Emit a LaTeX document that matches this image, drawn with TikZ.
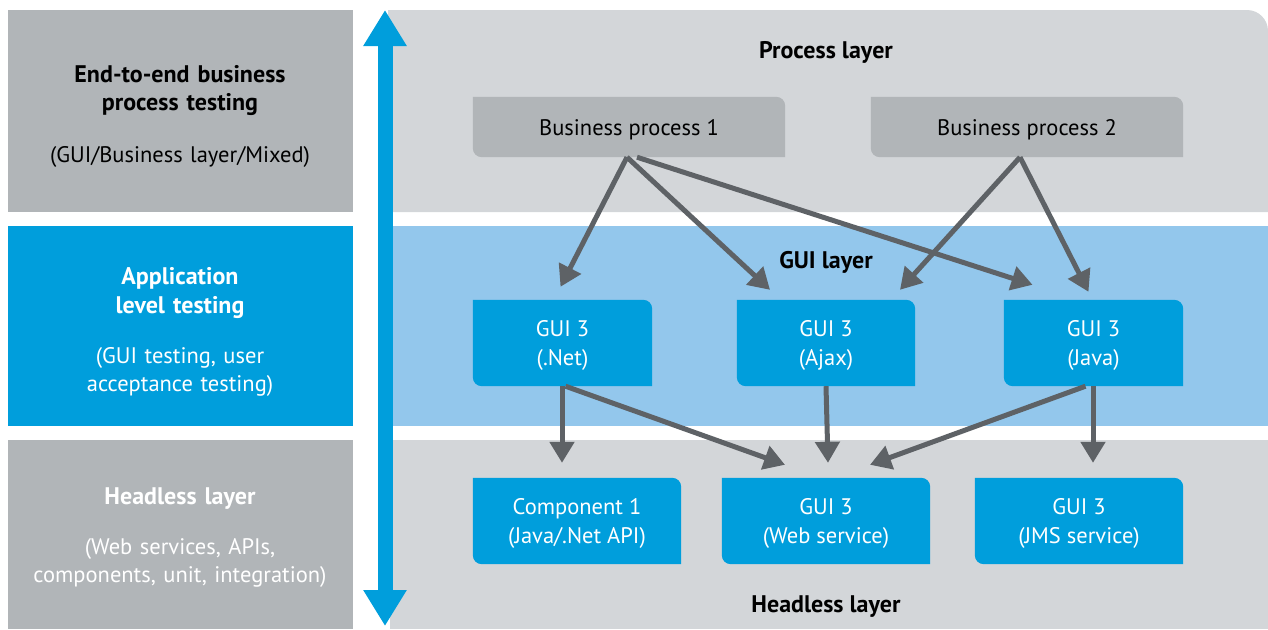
\documentclass[tikz,border=0pt]{standalone}
\usepackage{fontspec}
\setmainfont{PT Sans}
\usetikzlibrary{arrows.meta,backgrounds}
\definecolor{sidegray}{HTML}{B1B5B8}
\definecolor{bandgray}{HTML}{D3D6D9}
\definecolor{hpblue}{HTML}{009EDC}
\definecolor{bandblue}{HTML}{93C7EC}
\definecolor{linkgray}{HTML}{5E6266}
\tikzset{
  sidetext/.style={text width=330pt,align=center,inner sep=0pt,text depth=0pt,font=\fontsize{22.5}{28.5}\selectfont},
  sidetitle/.style={sidetext,font=\fontsize{24}{28.5}\selectfont\bfseries},
  bandtitle/.style={inner sep=0pt,text depth=0pt,font=\fontsize{24}{28}\selectfont\bfseries},
  procbox/.style={minimum width=312pt,minimum height=60pt,inner sep=0pt,text depth=0pt,font=\fontsize{22.5}{28}\selectfont},
  appbox/.style={minimum height=86pt,inner sep=0pt,text depth=0pt,align=center,text=white,font=\fontsize{22.5}{28.5}\selectfont},
  link/.style={draw=linkgray,line width=5pt,-{Triangle[length=21pt,width=24pt]}}
}
% fill with round top right and bottom left corners
\newcommand\cornerbox[2]{%
  \fill[#1] (#2.north west) -- ([xshift=-9pt]#2.north east)
    arc[start angle=90,end angle=0,radius=9pt] -- (#2.south east)
    -- ([xshift=9pt]#2.south west)
    arc[start angle=270,end angle=180,radius=9pt] -- cycle;}
\begin{document}
\begin{tikzpicture}[x=1pt,y=-1pt]
\useasboundingbox (0,0) rectangle (1268,629);

% left column
\node[sidetitle] (e2eT) at (180,73.5) {End-to-end business\\process testing};
\node[sidetext] (e2eS) at (180,154) {(GUI/Business layer/Mixed)};
\node[sidetitle,text=white] (appT) at (180,276) {Application\\level testing};
\node[sidetext,text=white] (appS) at (180,355) {(GUI testing, user\\acceptance testing)};
\node[sidetitle,text=white] (hdlT) at (180,496) {Headless layer};
\node[sidetext,text=white] (hdlS) at (180,546) {(Web services, APIs,\\components, unit, integration)};

% band titles
\node[bandtitle] (procL) at (826,50) {Process layer};
\node[bandtitle] (guiL) at (826,260) {GUI layer};
\node[bandtitle] (hdlL) at (826,604) {Headless layer};

% boxes
\node[procbox] (bp1) at (629,127) {Business process 1};
\node[procbox] (bp2) at (1027,127) {Business process 2};
\node[appbox,minimum width=179pt] (net) at (562.5,343) {GUI 3\\(.Net)};
\node[appbox,minimum width=178pt] (ajax) at (826,343) {GUI 3\\(Ajax)};
\node[appbox,minimum width=179pt] (java) at (1093.5,343) {GUI 3\\(Java)};
\node[appbox,minimum width=208pt] (comp) at (577,521) {Component 1\\(Java/.Net API)};
\node[appbox,minimum width=208pt] (web) at (826,521) {GUI 3\\(Web service)};
\node[appbox,minimum width=208pt] (jms) at (1079,521) {GUI 3\\(JMS service)};

\begin{scope}[on background layer]
  \fill[sidegray] (8,10) rectangle (353,212);
  \fill[hpblue] (8,226) rectangle (353,426);
  \fill[sidegray] (8,440) rectangle (353,629);
  \fill[bandgray] (388,10) -- (1247,10) arc[start angle=90,end angle=0,radius=21pt]
    -- (1268,212) -- (388,212) -- cycle;
  \fill[bandblue] (390,226) rectangle (1268,426);
  \fill[bandgray] (390,440) rectangle (1268,629);
  \cornerbox{sidegray}{bp1}
  \cornerbox{sidegray}{bp2}
  \foreach \b in {net,ajax,java,comp,web,jms}
    \cornerbox{hpblue}{\b};
\end{scope}

% scope arrow
\coordinate (topEnd) at (385,10);
\coordinate (botEnd) at (385,626);
\draw[hpblue,line width=15pt,{Triangle[length=36pt,width=41pt]}-{Triangle[length=36pt,width=41pt]}] (topEnd) -- (botEnd);

% links
\draw[link] ([xshift=-2pt]bp1.south) -- ([xshift=-2pt,yshift=13pt]net.north);
\draw[link] ([xshift=-2pt]bp1.south) -- ([xshift=-56pt,yshift=10pt]ajax.north);
\draw[link] ([xshift=8pt]bp1.south) -- ([xshift=-61pt,yshift=15pt]java.north);
\draw[link] ([xshift=-7pt]bp2.south) -- ([xshift=74pt,yshift=10pt]ajax.north);
\draw[link] ([xshift=-7pt]bp2.south) -- ([xshift=-5pt,yshift=8pt]java.north);
\draw[link] ([xshift=-0.5pt]net.south) -- ([xshift=-15pt,yshift=15pt]comp.north);
\draw[link] ([xshift=3pt]net.south) -- ([xshift=-41pt,yshift=13pt]web.north);
\draw[link] (ajax.south) -- ([xshift=2pt,yshift=15pt]web.north);
\draw[link] ([xshift=-8pt]java.south) -- ([xshift=44pt,yshift=13pt]web.north);
\draw[link] ([xshift=-0.5pt]java.south) -- ([xshift=14pt,yshift=15pt]jms.north);
\end{tikzpicture}
\end{document}
